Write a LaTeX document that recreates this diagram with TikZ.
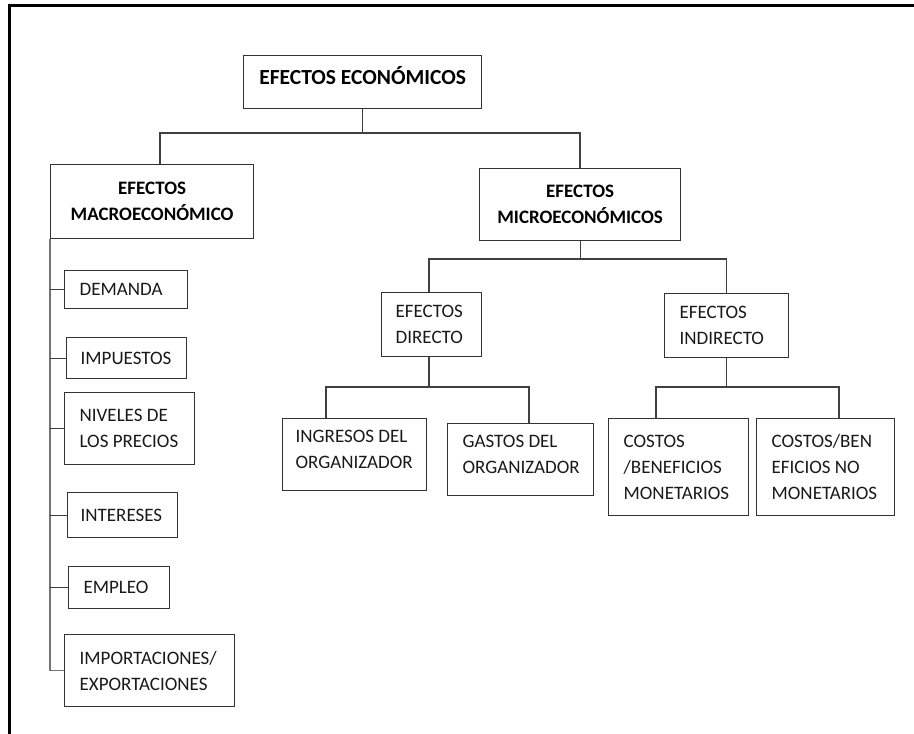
\documentclass[tikz,border=0pt]{standalone}
\usepackage{fontspec}
\setmainfont{Carlito}
\tikzset{
  frame/.style={draw=black, line width=3pt},
  link/.style={draw=black!75, line width=1.1pt},
  spine/.style={draw=black!55, line width=1.3pt},
  head/.style={draw=black!80, line width=1.3pt, anchor=north west, inner sep=0pt,
    align=center, font=\fontsize{19}{26}\selectfont\bfseries},
  leaf/.style={draw=black!80, line width=1.3pt, anchor=north west, inner xsep=15pt,
    inner ysep=0pt, align=flush left, text=black!90, font=\fontsize{19}{26}\selectfont}
}
\begin{document}
\begin{tikzpicture}[x=1pt,y=-1pt]
\useasboundingbox (0,0) rectangle (914,734);
\path[frame] (9,734) -- (9,5.5) -- (914,5.5);

% upper level
\node[head, minimum width=238pt, minimum height=53pt, text depth=13pt,
  font=\fontsize{21.5}{26}\selectfont\bfseries] (eco) at (243,55) {EFECTOS ECONÓMICOS};
\node[head, minimum width=203pt, minimum height=74pt] (macro) at (50,164) {EFECTOS\\MACROECONÓMICO};
\node[head, minimum width=201pt, minimum height=72pt] (micro) at (479,168) {EFECTOS\\MICROECONÓMICOS};

% macro branch
\node[leaf, text width=93pt, minimum height=38pt] (demanda) at (64,270) {DEMANDA};
\node[leaf, text width=92pt, minimum height=41pt, inner xsep=14pt] (impuestos) at (66,337) {IMPUESTOS};
\node[leaf, text width=100pt, minimum height=72pt] (niveles) at (64,392) {NIVELES~DE\\LOS~PRECIOS};
\node[leaf, text width=84pt, minimum height=45pt, inner xsep=13pt] (intereses) at (67,492) {INTERESES};
\node[leaf, text width=71pt, minimum height=42pt] (empleo) at (68,566) {EMPLEO};
\node[leaf, text width=140pt, minimum height=72pt] (impo) at (64,634) {IMPORTACIONES/\\EXPORTACIONES};

% micro branch
\node[leaf, text width=72pt, minimum height=64pt, inner xsep=14pt] (directo) at (381,292) {EFECTOS\\DIRECTO};
\node[leaf, text width=94pt, minimum height=64pt] (indirecto) at (664,293) {EFECTOS\\INDIRECTO};
\node[leaf, text width=118pt, minimum height=72pt, inner xsep=13pt, text depth=36pt] (ingresos) at (282,418) {INGRESOS~DEL\\ORGANIZADOR};
\node[leaf, text width=116pt, minimum height=72pt, text depth=36pt] (gastos) at (447,423) {GASTOS~DEL\\ORGANIZADOR};
\node[leaf, text width=110pt, minimum height=97pt] (monet) at (608,418) {COSTOS\\/BENEFICIOS\\MONETARIOS};
\node[leaf, text width=108pt, minimum height=97pt] (nomonet) at (756,418) {COSTOS/BEN\\EFICIOS~NO\\MONETARIOS};

% junctions
\coordinate (t1) at (160,133);
\coordinate (t2) at (580,133);
\coordinate (u1) at (429,259);
\coordinate (v1) at (326,387);
\coordinate (v2) at (529,387);
\coordinate (w1) at (656,387);
\coordinate (w2) at (839,387);

\path[link] (eco.south) -- (eco.south |- t1);
\path[link] (macro.north -| t1) -- (t1) -- (t2) -- (micro.north -| t2);
\path[link] (micro.south) -- (micro.south |- u1);
\path[link] (directo.north -| u1) -- (u1) -- (indirecto.north |- u1) -- (indirecto.north);
\path[link] (directo.south -| u1) -- (v1 -| u1);
\path[link] (ingresos.north -| v1) -- (v1) -- (v2) -- (gastos.north -| v2);
\path[link] (indirecto.south) -- (indirecto.south |- w1);
\path[link] (monet.north -| w1) -- (w1) -- (w2) -- (nomonet.north -| w2);

\path[spine] (macro.south west) -- (macro.south west |- impo.west) -- (impo.west);
\foreach \n in {demanda,impuestos,niveles,intereses,empleo}
  \path[link] (\n.west -| macro.south west) -- (\n.west);
\end{tikzpicture}
\end{document}
